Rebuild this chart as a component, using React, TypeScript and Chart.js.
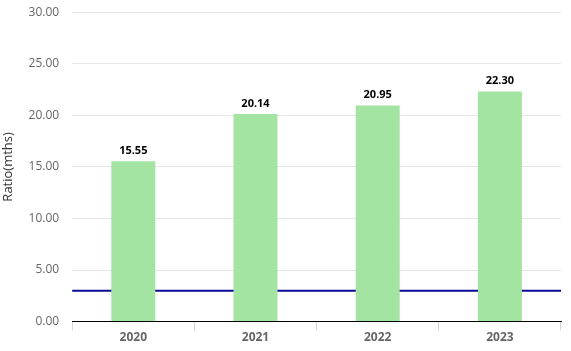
import React, { useEffect, useRef } from "react";
import { Chart, registerables } from "chart.js";

Chart.register(...registerables);

const categories = ["2020", "2021", "2022", "2023"];
const ratioValues = [15.55, 20.14, 20.95, 22.3];
const benchmarkValue = 3;
const yMin = 0;
const yMax = 30;
const yStep = 5;

const benchmarkPlugin = {
  id: "benchmarkLine",
  beforeDatasetsDraw(chart: any) {
    const { ctx, chartArea, scales } = chart;
    const y = scales.y.getPixelForValue(benchmarkValue);
    ctx.save();
    ctx.strokeStyle = "#0a0a96";
    ctx.lineWidth = 2;
    ctx.beginPath();
    ctx.moveTo(chartArea.left, y);
    ctx.lineTo(chartArea.right, y);
    ctx.stroke();
    ctx.restore();
  },
};

const labelPlugin = {
  id: "barLabels",
  afterDatasetsDraw(chart: any) {
    const { ctx } = chart;
    const meta = chart.getDatasetMeta(0);
    ctx.save();
    ctx.font = "bold 11px 'Open Sans'";
    ctx.fillStyle = "#000";
    ctx.textAlign = "center";
    ctx.textBaseline = "bottom";
    meta.data.forEach((bar: any, i: number) => {
      ctx.fillText(ratioValues[i].toFixed(2), bar.x, bar.y - 5);
    });
    ctx.restore();
  },
};

export default function App() {
  const ref = useRef<HTMLCanvasElement>(null);
  useEffect(() => {
    const chart = new Chart(ref.current!, {
      type: "bar",
      data: {
        labels: categories,
        datasets: [
          {
            data: ratioValues,
            backgroundColor: "rgb(163, 228, 163)",
            categoryPercentage: 1,
            barPercentage: 0.36,
          },
        ],
      },
      options: {
        animation: false,
        responsive: false,
        layout: { padding: { top: 0, right: 10, left: 0, bottom: 6 } },
        plugins: { legend: { display: false }, tooltip: { enabled: false } },
        scales: {
          x: {
            grid: {
              offset: true,
              drawOnChartArea: false,
              drawTicks: true,
              tickLength: 9,
              color: "#d8d8d8",
            },
            border: { display: true, color: "#000", width: 1 },
            ticks: {
              color: "#666",
              font: { family: "'Open Sans'", size: 12, weight: "bold" },
              padding: 0,
            },
          },
          y: {
            min: yMin,
            max: yMax,
            grid: { color: "#e6e6e6", drawTicks: false },
            border: { display: false },
            ticks: {
              stepSize: yStep,
              color: "#666",
              padding: 13,
              font: { family: "'Open Sans'", size: 12 },
              callback: (v: any) => Number(v).toFixed(2),
            },
            title: {
              display: true,
              text: "Ratio(mths)",
              color: "#333",
              font: { family: "'Open Sans'", size: 13 },
              padding: 0,
            },
          },
        },
      },
      plugins: [benchmarkPlugin, labelPlugin],
    });
    return () => chart.destroy();
  }, []);
  return (
    <div style={{ position: "fixed", left: 0, top: -8, width: 571, height: 359 }}>
      <canvas ref={ref} width={571} height={359} style={{ display: "block" }} />
    </div>
  );
}
